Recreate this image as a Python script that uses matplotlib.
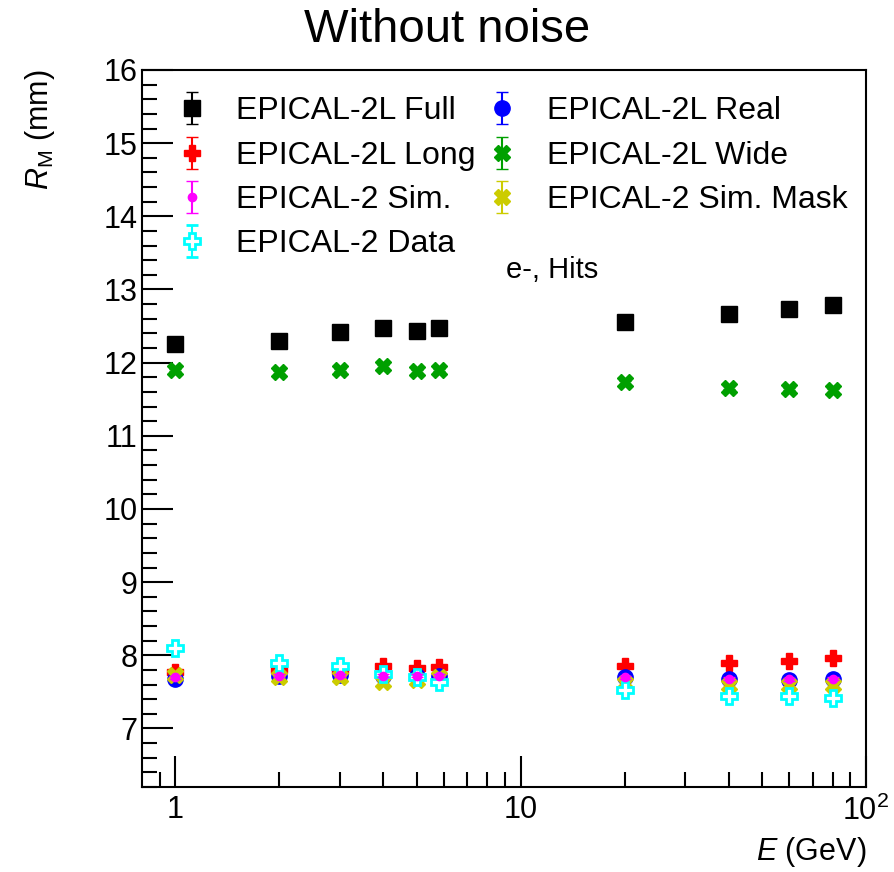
import matplotlib
matplotlib.use("Agg")
import matplotlib.pyplot as plt
from matplotlib.ticker import FixedLocator, FuncFormatter, MultipleLocator

plt.rcParams["font.family"] = ["Liberation Sans", "DejaVu Sans"]
plt.rcParams["mathtext.fontset"] = "custom"
plt.rcParams["mathtext.rm"] = "Liberation Sans"
plt.rcParams["mathtext.it"] = "Liberation Sans:italic"

energy = [1, 2, 3, 4, 5, 5.8, 20, 40, 60, 80]

rm_full = [12.25, 12.29, 12.42, 12.48, 12.43, 12.48, 12.55, 12.66, 12.74, 12.79]
rm_long = [7.77, 7.80, 7.78, 7.86, 7.82, 7.84, 7.86, 7.89, 7.92, 7.96]
rm_sim = [7.70, 7.72, 7.73, 7.72, 7.72, 7.72, 7.70, 7.68, 7.67, 7.68]
rm_data = [8.10, 7.89, 7.86, 7.75, 7.70, 7.63, 7.52, 7.44, 7.44, 7.41]
rm_real = [7.68, 7.72, 7.73, 7.72, 7.72, 7.72, 7.70, 7.68, 7.66, 7.68]
rm_wide = [11.90, 11.87, 11.90, 11.95, 11.88, 11.90, 11.73, 11.66, 11.64, 11.62]
rm_mask = [7.73, 7.70, 7.70, 7.63, 7.66, 7.70, 7.62, 7.59, 7.59, 7.59]
rm_err = [0.02, 0.02, 0.02, 0.02, 0.02, 0.02, 0.02, 0.02, 0.02, 0.02]

series = [
    ("EPICAL-2L Full", rm_full, "black", "s", 11, "black", 3),
    ("EPICAL-2L Long", rm_long, "#ff0000", "P", 12, "#ff0000", 3),
    ("EPICAL-2 Sim.", rm_sim, "#ff00ff", "o", 6, "#ff00ff", 8),
    ("EPICAL-2 Data", rm_data, "#00ffff", "P", 12, "white", 7),
    ("EPICAL-2L Real", rm_real, "#0000ff", "o", 11, "#0000ff", 4),
    ("EPICAL-2L Wide", rm_wide, "#00a000", "X", 12, "#00a000", 3),
    ("EPICAL-2 Sim. Mask", rm_mask, "#cccc00", "X", 12, "#cccc00", 6),
]

fig = plt.figure(figsize=(8.95, 8.72), dpi=100)
ax = fig.add_axes([142 / 895, 1 - 787 / 872, 724 / 895, 717 / 872])

for label, vals, color, marker, ms, face, z in series:
    ax.errorbar(energy, vals, yerr=rm_err, fmt=marker, color=color, ms=ms,
                mfc=face, mec=color, mew=2 if face == "white" else 1,
                ecolor=color, elinewidth=1.5, capsize=4, label=label, zorder=z)

ax.set_xscale("log")
ax.set_xlim(0.8, 100)
ax.set_ylim(6.2, 16)

ax.xaxis.set_major_locator(FixedLocator([1, 10, 100]))
ax.xaxis.set_minor_locator(FixedLocator([0.9, 2, 3, 4, 5, 6, 7, 8, 9,
                                         20, 30, 40, 50, 60, 70, 80, 90]))
ax.xaxis.set_major_formatter(FuncFormatter(
    lambda v, p: {1: "1", 10: "10", 100: r"$\mathrm{10^2}$"}.get(int(round(v)), "")))
ax.xaxis.set_minor_formatter(FuncFormatter(lambda v, p: ""))
ax.yaxis.set_major_locator(MultipleLocator(1))
ax.yaxis.set_minor_locator(MultipleLocator(0.2))

ax.tick_params(which="both", direction="in", top=False, right=False,
               labelsize=22, width=1.5)
ax.tick_params(axis="x", pad=6)
ax.tick_params(axis="y", pad=3)
ax.tick_params(which="major", length=22)
ax.tick_params(which="minor", length=11)
for sp in ax.spines.values():
    sp.set_linewidth(1.5)

ax.legend(loc="upper left", bbox_to_anchor=(0.02, 0.99), ncol=2, frameon=False,
          fontsize=23, handlelength=1.0, handletextpad=0.9, labelspacing=0.45,
          columnspacing=0.33, borderaxespad=0.2)

ax.text(0.566, 0.721, "e-, Hits", transform=ax.transAxes, fontsize=21,
        ha="center", va="center")

fig.text(0.5, 1 - 30 / 872, "Without noise", fontsize=34, ha="center", va="center")
fig.text(40 / 895, 1 - 70 / 872, r"$R_\mathrm{M}$ (mm)", fontsize=22,
         rotation=90, ha="center", va="top")
fig.text(866 / 895, 1 - 852 / 872, r"$E$ (GeV)", fontsize=22, ha="right", va="center")

fig.savefig("out.png", dpi=100)
